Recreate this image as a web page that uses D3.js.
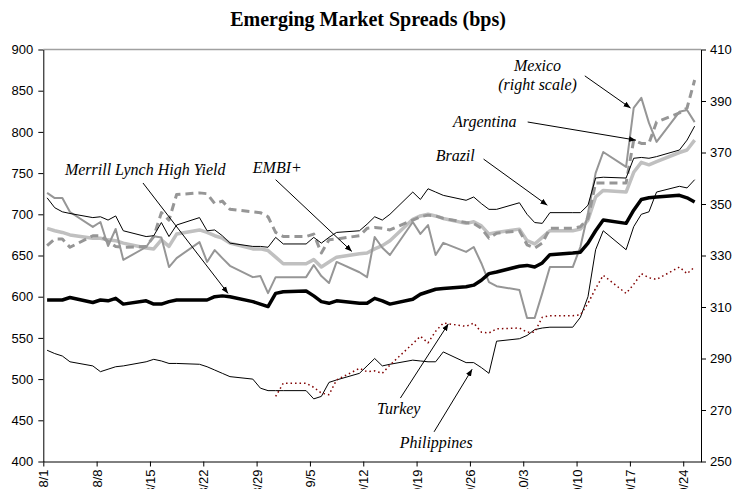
<!DOCTYPE html>
<html>
<head>
<meta charset="utf-8">
<script src="https://cdn.jsdelivr.net/npm/d3@7"></script>
<style>
  body { margin: 0; background: #fff; }
  svg { display: block; font-family: "Liberation Serif", "Times New Roman", serif; }
  .axis text { font-size: 13px; fill: #000; }
  .axis path, .axis line { stroke: #000; }
  .note { font-size: 16px; font-style: italic; fill: #000; }
</style>
</head>
<body>
<div id="chart"></div>
<script>
// business days, 2000
var dates = [
  "08/01","08/02","08/03","08/04","08/07","08/08","08/09","08/10","08/11","08/14","08/15","08/16",
  "08/17","08/18","08/21","08/22","08/23","08/24","08/25","08/28","08/29","08/30","08/31",
  "09/01","09/04","09/05","09/06","09/07","09/08","09/11","09/12","09/13","09/14","09/15","09/18",
  "09/19","09/20","09/21","09/22","09/25","09/26","09/27","09/28","09/29",
  "10/02","10/03","10/04","10/05","10/06","10/09","10/10","10/11","10/12","10/13","10/16","10/17",
  "10/18","10/19","10/20","10/23","10/24","10/25"
];

// left scale
var highYield = [596,596,596,599,593,596,595,598,591,595,591,591,594,596,596,596,600,601,600,594,591,588,604,
  606,607,601,594,592,595,592,592,598,595,591,597,603,606,609,610,612,614,620,628,630,
  637,638,636,641,651,653,654,665,680,693,689,705,718,720,721,723,720,715];
var embi = [683,680,678,675,671,671,669,668,665,659,658,669,661,676,681,678,674,671,665,658,658,656,648,
  640,640,645,636,642,648,652,653,658,662,668,694,698,700,698,695,689,691,686,676,678,
  682,668,664,672,680,680,682,693,721,729,727,751,763,760,764,775,778,790];
var brazil = [720,708,703,701,696,697,693,698,680,673,674,690,673,687,696,680,681,674,665,661,661,660,672,
  664,664,672,665,672,678,680,688,697,693,700,727,718,731,727,723,717,721,713,706,706,
  714,700,690,689,702,702,702,711,744,745,744,768,769,768,770,778,790,807];
var argentina = [662,670,670,660,674,674,667,661,660,661,673,702,693,724,726,725,713,716,706,703,702,697,678,
  673,673,676,653,669,670,674,683,684,683,681,693,697,699,698,695,690,689,683,671,677,
  680,663,659,665,683,683,685,695,738,738,738,790,786,786,812,823,829,863];
var turkey = [null,null,null,null,null,null,null,null,null,null,null,null,null,null,null,null,null,null,null,null,null,null,479,
  495,495,490,483,481,499,513,509,510,507,517,543,552,544,558,568,564,568,557,556,561,
  562,557,557,575,577,577,578,592,610,626,604,615,628,623,621,636,628,636];
var philippines = [535,531,528,521,516,509,512,515,516,521,524,522,519,519,518,515,511,507,503,500,489,486,486,
  486,486,476,479,496,499,507,516,525,516,518,523,522,521,521,533,520,520,514,507,546,
  549,553,560,562,563,563,575,600,657,680,657,685,700,703,727,734,732,742];
// right scale
var mexico = [354.3,352.3,352.3,346.9,341.1,343,333.7,340.3,328.3,333.3,337.5,337,325.5,329,335.2,327.5,332.1,329,326,321.6,322,315.4,321.6,
  321.6,321.6,326.3,322,319.3,327.5,323.5,321.6,337.2,333,330.2,343,338.4,341.8,330.2,334.9,331.4,333.3,327,319.7,318.1,
  316.6,305.7,305.7,315.4,325.5,325.5,333.3,346.5,362,370.2,364.4,387.3,391.2,381.5,374.1,385.8,386.5,381.8];

var xTickLabels = ["8/1","8/8","8/15","8/22","8/29","9/5","9/12","9/19","9/26","10/3","10/10","10/17","10/24"];
var leftTicks = [400,450,500,550,600,650,700,750,800,850,900];
var rightTicks = [250,270,290,310,330,350,370,390,410];

var parseDay = d3.timeParse("%m/%d/%Y");

var W = 739, H = 489;
var margin = {top: 49.5, right: 38, bottom: 27.5, left: 43.3},
    width = W - margin.left - margin.right,
    height = H - margin.top - margin.bottom;

var start = parseDay("08/01/2000");
var x = d3.scaleTime()
    .domain([start, d3.timeHour.offset(parseDay("10/26/2000"), 8)])
    .range([0, width]);
var yL = d3.scaleLinear().domain([400, 900]).range([height, 0]);
var yR = d3.scaleLinear().domain([250, 410]).range([height, 0]);

// points sit mid-day
var pts = dates.map(function(s) { return d3.timeHour.offset(parseDay(s + "/2000"), 12); });
function dayX(n) { return x(d3.timeHour.offset(start, n * 24)); }

var svg = d3.select("#chart").append("svg")
    .attr("width", W)
    .attr("height", H);

svg.append("text")
    .attr("x", 368)
    .attr("y", 26)
    .attr("text-anchor", "middle")
    .style("font-size", "20px")
    .style("font-weight", "bold")
    .text("Emerging Market Spreads (bps)");

var g = svg.append("g")
    .attr("transform", "translate(" + margin.left + "," + margin.top + ")");

// top border of plot area
g.append("line")
    .attr("x1", 0).attr("x2", width)
    .attr("y1", 0).attr("y2", 0)
    .style("stroke", "#a0a0a0")
    .style("stroke-width", 1.5);

var series = [
  {vals: embi, y: yL, color: "#c0c0c0", w: 3.5},
  {vals: argentina, y: yL, color: "#969696", w: 3, dash: "8,5"},
  {vals: mexico, y: yR, color: "#969696", w: 2},
  {vals: brazil, y: yL, color: "#000", w: 1},
  {vals: philippines, y: yL, color: "#000", w: 1},
  {vals: turkey, y: yL, color: "#800000", w: 1.5, dash: "1.5,3"},
  {vals: highYield, y: yL, color: "#000", w: 3.5}
];

series.forEach(function(s) {
  var line = d3.line()
      .defined(function(d) { return d != null; })
      .x(function(d, i) { return x(pts[i]); })
      .y(function(d) { return s.y(d); });
  g.append("path")
      .datum(s.vals)
      .attr("d", line)
      .style("fill", "none")
      .style("stroke", s.color)
      .style("stroke-width", s.w)
      .style("stroke-linejoin", "round")
      .style("stroke-dasharray", s.dash || null);
});

// axes
g.append("g")
    .attr("class", "axis")
    .call(d3.axisLeft(yL).tickValues(leftTicks).tickSize(5).tickSizeOuter(0).tickPadding(5));

g.append("g")
    .attr("class", "axis")
    .attr("transform", "translate(" + width + ",0)")
    .call(d3.axisRight(yR).tickValues(rightTicks).tickSize(5).tickSizeOuter(0).tickPadding(4));

var xAxis = g.append("g")
    .attr("class", "axis")
    .attr("transform", "translate(0," + height + ")")
    .call(d3.axisBottom(x)
        .tickValues(xTickLabels.map(function(s) { return parseDay(s + "/2000"); }))
        .tickFormat(function(d, i) { return xTickLabels[i]; })
        .tickSize(5).tickSizeOuter(0));

xAxis.selectAll("text")
    .attr("transform", "rotate(-90)")
    .attr("x", -8)
    .attr("y", 0)
    .attr("dy", "0.35em")
    .style("text-anchor", "end");

// labels with arrows, placed in data space (days from 8/1, left scale)
svg.append("defs").append("marker")
    .attr("id", "arrow")
    .attr("viewBox", "0 0 10 10")
    .attr("refX", 10).attr("refY", 5)
    .attr("markerWidth", 7).attr("markerHeight", 7)
    .attr("markerUnits", "userSpaceOnUse")
    .attr("orient", "auto")
    .append("path")
    .attr("d", "M0,1 L10,5 L0,9 Z")
    .style("fill", "#000");

var notes = [
  {text: "Merrill Lynch High Yield", tx: 2.85, ty: 748, from: [13.1, 738], to: [24.25, 604]},
  {text: "EMBI+", tx: 27.5, ty: 750, from: [30.5, 742], to: [40.5, 655]},
  {text: "Brazil", tx: 51.5, ty: 765, from: [57.8, 767], to: [66.2, 711]},
  {text: "Argentina", tx: 53.8, ty: 806, from: [63.6, 812], to: [77.8, 790]},
  {text: "Turkey", tx: 43.8, ty: 458, from: [46.9, 477], to: [53.2, 567]},
  {text: "Philippines", tx: 46.8, ty: 416, from: [51.3, 436], to: [56.3, 512]}
];

notes.forEach(function(n) {
  g.append("text")
      .attr("class", "note")
      .attr("x", dayX(n.tx))
      .attr("y", yL(n.ty))
      .text(n.text);
  g.append("line")
      .attr("x1", dayX(n.from[0])).attr("y1", yL(n.from[1]))
      .attr("x2", dayX(n.to[0])).attr("y2", yL(n.to[1]))
      .style("stroke", "#000")
      .style("stroke-width", 1)
      .attr("marker-end", "url(#arrow)");
});

g.append("text")
    .attr("class", "note")
    .attr("x", dayX(64.9))
    .attr("y", yL(874))
    .attr("text-anchor", "middle")
    .text("Mexico");
g.append("text")
    .attr("class", "note")
    .attr("x", dayX(64.9))
    .attr("y", yL(851))
    .attr("text-anchor", "middle")
    .text("(right scale)");
g.append("line")
    .attr("x1", dayX(71.1)).attr("y1", yL(868))
    .attr("x2", dayX(77.1)).attr("y2", yL(829))
    .style("stroke", "#000")
    .style("stroke-width", 1)
    .attr("marker-end", "url(#arrow)");
</script>
</body>
</html>
